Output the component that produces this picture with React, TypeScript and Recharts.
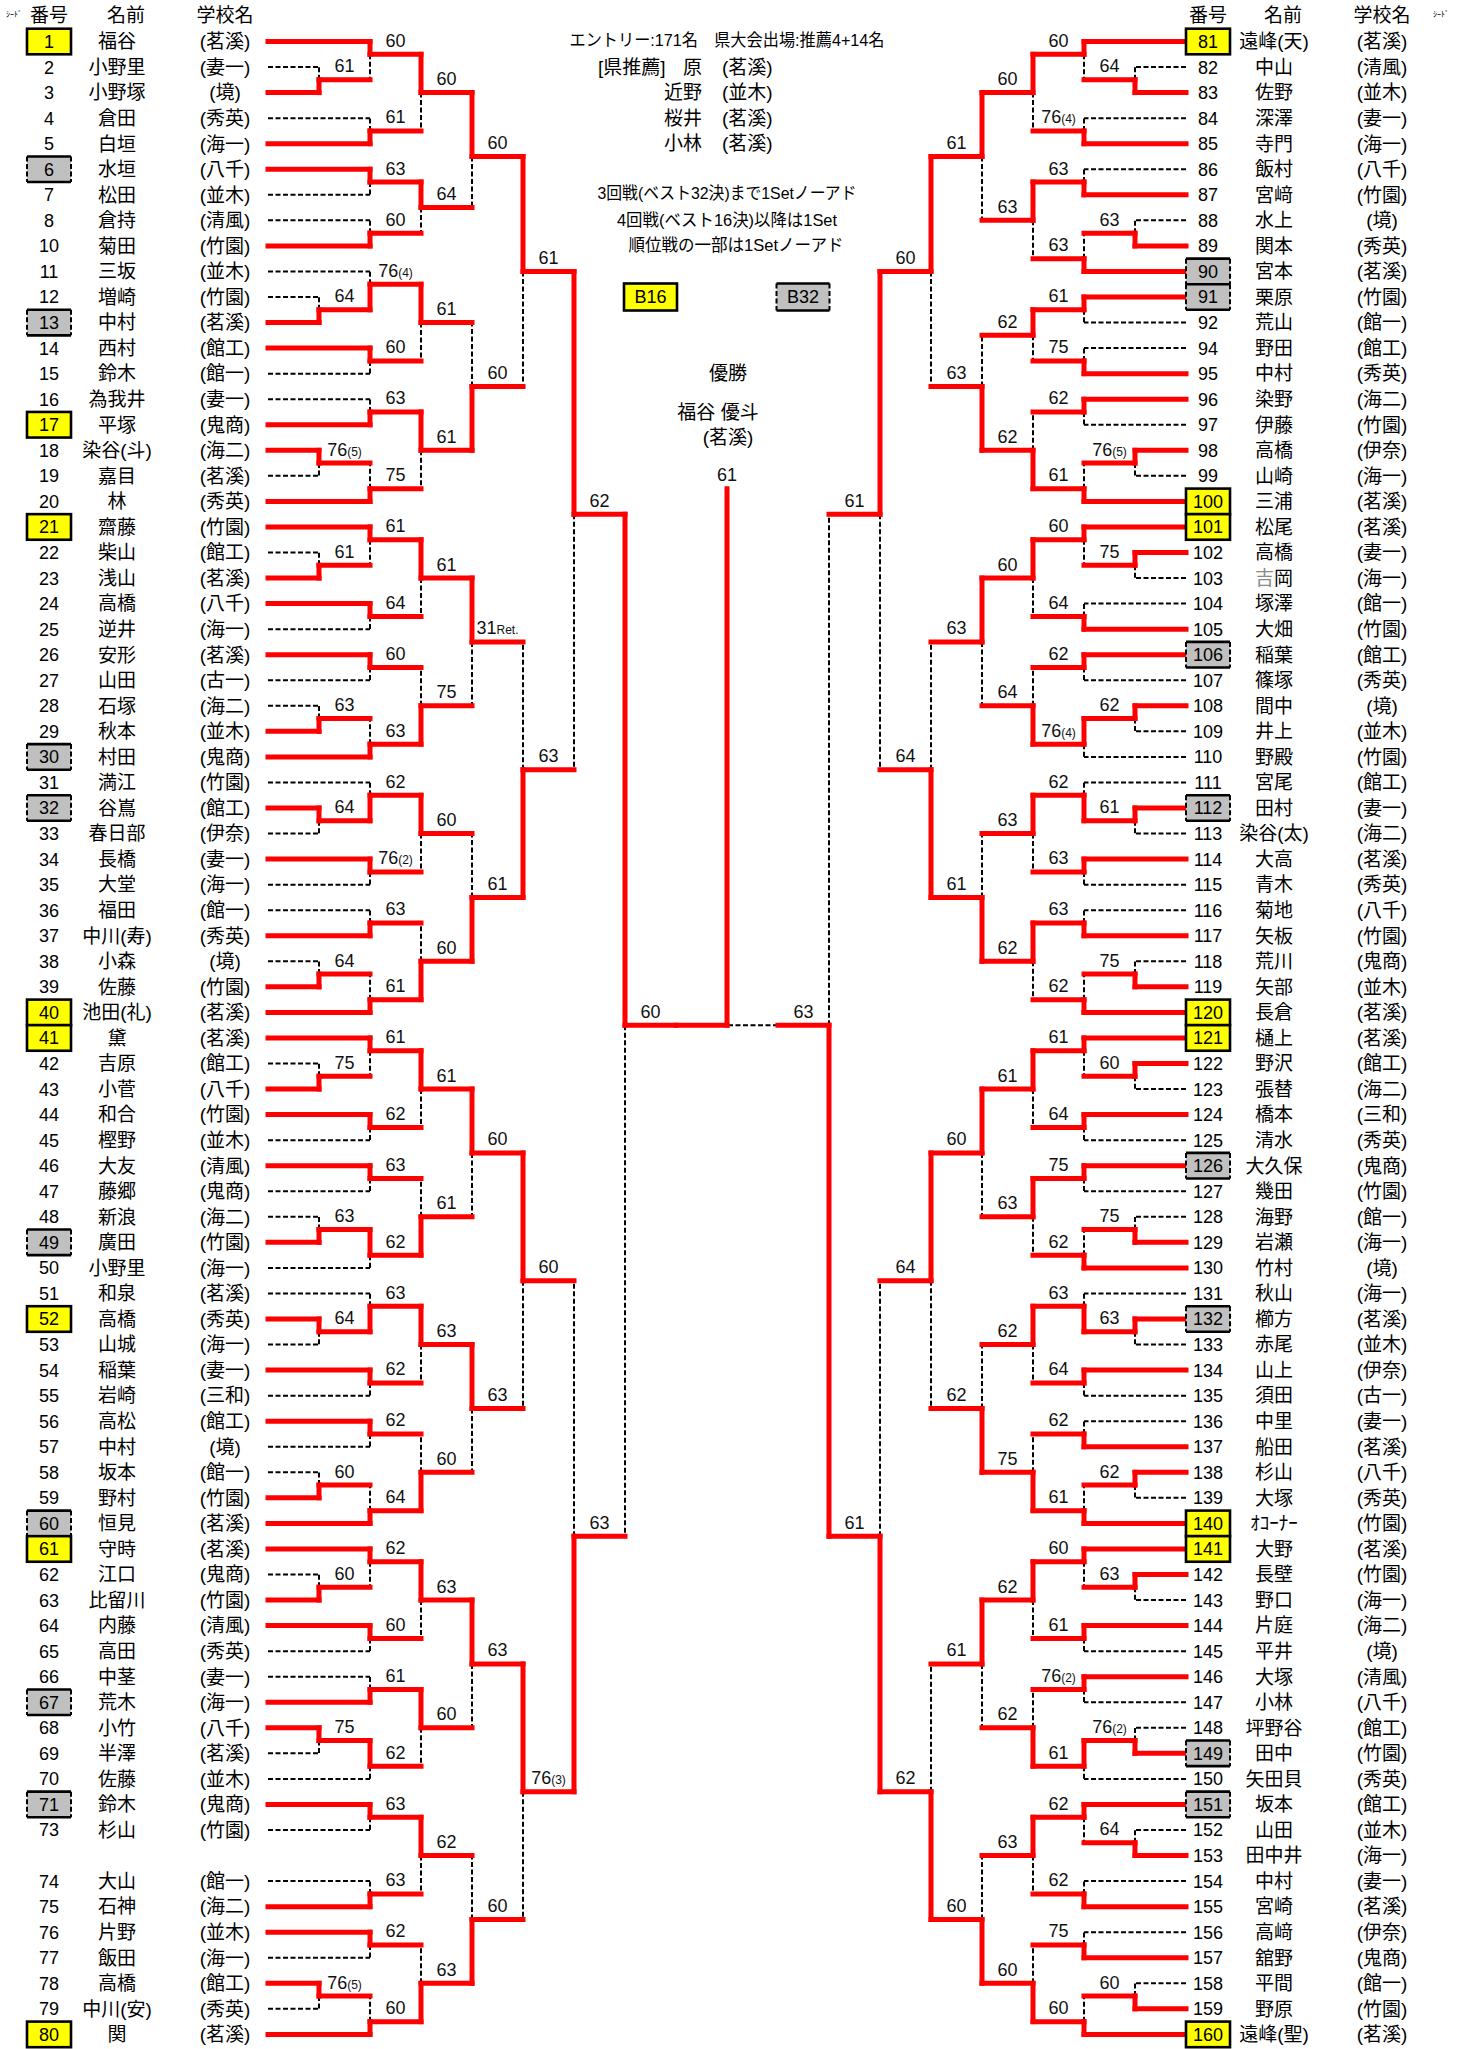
import React from 'react';
import { ComposedChart, XAxis, YAxis, Scatter, ReferenceLine } from 'recharts';

// ---------------- data ----------------
const LEFT_NUMS: (number | null)[] = [
  1, 2, 3, 4, 5, 6, 7, 8, 10, 11, 12, 13, 14, 15, 16, 17, 18, 19, 20, 21, 22, 23, 24, 25, 26, 27, 28, 29, 30,
  31, 32, 33, 34, 35, 36, 37, 38, 39, 40, 41, 42, 43, 44, 45, 46, 47, 48, 49, 50, 51, 52, 53, 54, 55, 56, 57,
  58, 59, 60, 61, 62, 63, 64, 65, 66, 67, 68, 69, 70, 71, 73, null, 74, 75, 76, 77, 78, 79, 80,
];
const LEFT_NAMES: string[] = [
  '福谷', '小野里', '小野塚', '倉田', '白垣', '水垣', '松田', '倉持', '菊田', '三坂', '増崎', '中村', '西村', '鈴木',
  '為我井', '平塚', '染谷(斗)', '嘉目', '林', '齋藤', '柴山', '浅山', '高橋', '逆井', '安形', '山田', '石塚', '秋本',
  '村田', '満江', '谷嶌', '春日部', '長橋', '大堂', '福田', '中川(寿)', '小森', '佐藤', '池田(礼)', '黛', '吉原', '小菅',
  '和合', '樫野', '大友', '藤郷', '新浪', '廣田', '小野里', '和泉', '高橋', '山城', '稲葉', '岩崎', '高松', '中村',
  '坂本', '野村', '恒見', '守時', '江口', '比留川', '内藤', '高田', '中茎', '荒木', '小竹', '半澤', '佐藤', '鈴木',
  '杉山', '', '大山', '石神', '片野', '飯田', '高橋', '中川(安)', '関',
];
const LEFT_SCHOOLS: string[] = [
  '茗溪', '妻一', '境', '秀英', '海一', '八千', '並木', '清風', '竹園', '並木', '竹園', '茗溪', '館工', '館一', '妻一',
  '鬼商', '海二', '茗溪', '秀英', '竹園', '館工', '茗溪', '八千', '海一', '茗溪', '古一', '海二', '並木', '鬼商', '竹園',
  '館工', '伊奈', '妻一', '海一', '館一', '秀英', '境', '竹園', '茗溪', '茗溪', '館工', '八千', '竹園', '並木', '清風',
  '鬼商', '海二', '竹園', '海一', '茗溪', '秀英', '海一', '妻一', '三和', '館工', '境', '館一', '竹園', '茗溪', '茗溪',
  '鬼商', '竹園', '清風', '秀英', '妻一', '海一', '八千', '茗溪', '並木', '鬼商', '竹園', '', '館一', '海二', '並木',
  '海一', '館工', '秀英', '茗溪',
];
const RIGHT_NUMS: number[] = [
  81, 82, 83, 84, 85, 86, 87, 88, 89, 90, 91, 92, 94, 95, 96, 97, 98, 99, 100, 101, 102, 103, 104, 105, 106, 107,
  108, 109, 110, 111, 112, 113, 114, 115, 116, 117, 118, 119, 120, 121, 122, 123, 124, 125, 126, 127, 128, 129,
  130, 131, 132, 133, 134, 135, 136, 137, 138, 139, 140, 141, 142, 143, 144, 145, 146, 147, 148, 149, 150, 151,
  152, 153, 154, 155, 156, 157, 158, 159, 160,
];
const RIGHT_NAMES: string[] = [
  '遠峰(天)', '中山', '佐野', '深澤', '寺門', '飯村', '宮﨑', '水上', '関本', '宮本', '栗原', '荒山', '野田', '中村',
  '染野', '伊藤', '高橋', '山崎', '三浦', '松尾', '高橋', '吉岡', '塚澤', '大畑', '稲葉', '篠塚', '間中', '井上', '野殿',
  '宮尾', '田村', '染谷(太)', '大高', '青木', '菊地', '矢板', '荒川', '矢部', '長倉', '樋上', '野沢', '張替', '橋本',
  '清水', '大久保', '幾田', '海野', '岩瀬', '竹村', '秋山', '櫛方', '赤尾', '山上', '須田', '中里', '船田', '杉山',
  '大塚', 'ｵｺｰﾅｰ', '大野', '長壁', '野口', '片庭', '平井', '大塚', '小林', '坪野谷', '田中', '矢田貝', '坂本', '山田',
  '田中井', '中村', '宮崎', '高﨑', '舘野', '平間', '野原', '遠峰(聖)',
];
const RIGHT_SCHOOLS: string[] = [
  '茗溪', '清風', '並木', '妻一', '海一', '八千', '竹園', '境', '秀英', '茗溪', '竹園', '館一', '館工', '秀英', '海二',
  '竹園', '伊奈', '海一', '茗溪', '茗溪', '妻一', '海一', '館一', '竹園', '館工', '秀英', '境', '並木', '竹園', '館工',
  '妻一', '海二', '茗溪', '秀英', '八千', '竹園', '鬼商', '並木', '茗溪', '茗溪', '館工', '海二', '三和', '秀英', '鬼商',
  '竹園', '館一', '海一', '境', '海一', '茗溪', '並木', '伊奈', '古一', '妻一', '茗溪', '八千', '秀英', '竹園', '茗溪',
  '竹園', '海一', '海二', '境', '清風', '八千', '館工', '竹園', '秀英', '館工', '並木', '海一', '妻一', '茗溪', '伊奈',
  '鬼商', '館一', '竹園', '茗溪',
];
const SEED_B16: number[] = [1, 17, 21, 40, 41, 52, 61, 80, 81, 100, 101, 120, 121, 140, 141, 160];
const SEED_B32: number[] = [6, 13, 30, 32, 49, 60, 67, 71, 90, 91, 106, 112, 126, 132, 149, 151];
// the one name whose first glyph is printed as a grey fallback glyph
const FALLBACK_GLYPH = { num: 103, char: '吉' };

// [round, playerA, playerB, winner, score]
const LEFT_MATCHES: [number, number, number, number, string][] = [
  [1, 2, 3, 3, '61'], [1, 12, 13, 13, '64'], [1, 18, 19, 18, '76(5)'], [1, 22, 23, 23, '61'],
  [1, 28, 29, 29, '63'], [1, 32, 33, 32, '64'], [1, 38, 39, 39, '64'], [1, 42, 43, 43, '75'],
  [1, 48, 49, 49, '63'], [1, 52, 53, 52, '64'], [1, 58, 59, 59, '60'], [1, 62, 63, 63, '60'],
  [1, 68, 69, 68, '75'], [1, 78, 79, 78, '76(5)'],
  [2, 1, 3, 1, '60'], [2, 4, 5, 5, '61'], [2, 6, 7, 6, '63'], [2, 8, 10, 10, '60'],
  [2, 11, 13, 13, '76(4)'], [2, 14, 15, 14, '60'], [2, 16, 17, 17, '63'], [2, 18, 20, 20, '75'],
  [2, 21, 23, 21, '61'], [2, 24, 25, 24, '64'], [2, 26, 27, 26, '60'], [2, 29, 30, 30, '63'],
  [2, 31, 32, 32, '62'], [2, 34, 35, 34, '76(2)'], [2, 36, 37, 37, '63'], [2, 39, 40, 40, '61'],
  [2, 41, 43, 41, '61'], [2, 44, 45, 44, '62'], [2, 46, 47, 46, '63'], [2, 49, 50, 49, '62'],
  [2, 51, 52, 52, '63'], [2, 54, 55, 54, '62'], [2, 56, 57, 56, '62'], [2, 59, 60, 60, '64'],
  [2, 61, 63, 61, '62'], [2, 64, 65, 64, '60'], [2, 66, 67, 67, '61'], [2, 68, 70, 68, '62'],
  [2, 71, 73, 71, '63'], [2, 74, 75, 75, '63'], [2, 76, 77, 76, '62'], [2, 78, 80, 80, '60'],
  [3, 1, 5, 1, '60'], [3, 6, 10, 6, '64'], [3, 13, 14, 13, '61'], [3, 17, 20, 17, '61'],
  [3, 21, 24, 21, '61'], [3, 26, 30, 30, '75'], [3, 32, 34, 32, '60'], [3, 37, 40, 40, '60'],
  [3, 41, 44, 41, '61'], [3, 46, 49, 49, '61'], [3, 52, 54, 52, '63'], [3, 56, 60, 60, '60'],
  [3, 61, 64, 61, '63'], [3, 67, 68, 67, '60'], [3, 71, 75, 71, '62'], [3, 76, 80, 80, '63'],
  [4, 1, 6, 1, '60'], [4, 13, 17, 17, '60'], [4, 21, 30, 21, '31Ret.'], [4, 32, 40, 40, '61'],
  [4, 41, 49, 41, '60'], [4, 52, 60, 52, '63'], [4, 61, 67, 61, '63'], [4, 71, 80, 80, '60'],
  [5, 1, 17, 1, '61'], [5, 21, 40, 40, '63'], [5, 41, 52, 41, '60'], [5, 61, 80, 61, '76(3)'],
  [6, 1, 40, 1, '62'], [6, 41, 61, 61, '63'],
  [7, 1, 61, 1, '60'],
];
const RIGHT_MATCHES: [number, number, number, number, string][] = [
  [1, 82, 83, 83, '64'], [1, 88, 89, 89, '63'], [1, 98, 99, 98, '76(5)'], [1, 102, 103, 102, '75'],
  [1, 108, 109, 108, '62'], [1, 112, 113, 112, '61'], [1, 118, 119, 119, '75'], [1, 122, 123, 122, '60'],
  [1, 128, 129, 129, '75'], [1, 132, 133, 132, '63'], [1, 138, 139, 138, '62'], [1, 142, 143, 142, '63'],
  [1, 148, 149, 149, '76(2)'], [1, 152, 153, 153, '64'], [1, 158, 159, 159, '60'],
  [2, 81, 83, 81, '60'], [2, 84, 85, 85, '76(4)'], [2, 86, 87, 87, '63'], [2, 89, 90, 90, '63'],
  [2, 91, 92, 91, '61'], [2, 94, 95, 95, '75'], [2, 96, 97, 96, '62'], [2, 98, 100, 100, '61'],
  [2, 101, 102, 101, '60'], [2, 104, 105, 105, '64'], [2, 106, 107, 106, '62'], [2, 108, 110, 108, '76(4)'],
  [2, 111, 112, 112, '62'], [2, 114, 115, 114, '63'], [2, 116, 117, 117, '63'], [2, 119, 120, 120, '62'],
  [2, 121, 122, 121, '61'], [2, 124, 125, 124, '64'], [2, 126, 127, 126, '75'], [2, 129, 130, 130, '62'],
  [2, 131, 132, 132, '63'], [2, 134, 135, 134, '64'], [2, 136, 137, 137, '62'], [2, 138, 140, 140, '61'],
  [2, 141, 142, 141, '60'], [2, 144, 145, 144, '61'], [2, 146, 147, 146, '76(2)'], [2, 149, 150, 149, '61'],
  [2, 151, 153, 151, '62'], [2, 154, 155, 155, '62'], [2, 156, 157, 157, '75'], [2, 159, 160, 160, '60'],
  [3, 81, 85, 81, '60'], [3, 87, 90, 87, '63'], [3, 91, 95, 91, '62'], [3, 96, 100, 100, '62'],
  [3, 101, 105, 101, '60'], [3, 106, 108, 108, '64'], [3, 112, 114, 112, '63'], [3, 117, 120, 117, '62'],
  [3, 121, 124, 121, '61'], [3, 126, 130, 126, '63'], [3, 132, 134, 132, '62'], [3, 137, 140, 140, '75'],
  [3, 141, 144, 141, '62'], [3, 146, 149, 149, '62'], [3, 151, 155, 151, '63'], [3, 157, 160, 160, '60'],
  [4, 81, 87, 81, '61'], [4, 91, 100, 100, '63'], [4, 101, 108, 101, '63'], [4, 112, 117, 117, '61'],
  [4, 121, 126, 121, '60'], [4, 132, 140, 140, '62'], [4, 141, 149, 141, '61'], [4, 151, 160, 160, '60'],
  [5, 81, 100, 81, '60'], [5, 101, 117, 117, '64'], [5, 121, 140, 121, '64'], [5, 141, 160, 160, '62'],
  [6, 81, 117, 81, '61'], [6, 121, 160, 160, '61'],
  [7, 81, 160, 160, '63'],
];
// [left finalist, right finalist, winner, score]
const FINAL_MATCH: [number, number, number, string] = [1, 160, 1, '61'];
const CHAMPION = { title: '優勝', name: '福谷 優斗', school: '茗溪' };

const ENTRY_NOTE = 'エントリー:171名　県大会出場:推薦4+14名';
const REC_LABEL = '[県推薦]';
const REC_NAMES: string[] = ['原', '近野', '桜井', '小林'];
const REC_SCHOOLS: string[] = ['茗溪', '並木', '茗溪', '茗溪'];
const RULE_NOTES: string[] = ['3回戦(ベスト32決)まで1Setノーアド', '4回戦(ベスト16決)以降は1Set', '順位戦の一部は1Setノーアド'];
const SEED_LEGEND: string[] = ['B16', 'B32'];
const HEADERS: string[] = ['番号', '名前', '学校名'];
const SEED_HEADER = 'ｼｰﾄﾞ';

// ---------------- layout ----------------
const W = 1472;
const H = 2049;
const X0 = 268; // pixel of bracket column 0
const DX = 51; // pixel width of one round column
const Y0 = 41.5; // pixel of row 0
const DY = 25.55; // pixel height of one row
const CENTER_COL = 9;
const CHAMP_ROW = 17.5;
const kx = (px: number) => (px - X0) / DX;
const ry = (py: number) => (py - Y0) / DY;
const X_DOMAIN: [number, number] = [kx(0), kx(W)];
const Y_DOMAIN: [number, number] = [ry(0), ry(H)];
const FONT = "'Liberation Sans', Arial, 'Noto Sans CJK JP', sans-serif";
const RED = '#ff0000';

type Seg = { x1: number; y1: number; x2: number; y2: number; red: boolean };
type Lbl = { x: number; y: number; label: string };

const snapRow = (m: number) => {
  const q = Math.round(m * 4);
  return q % 2 !== 0 ? Math.floor(m) + 0.5 : q / 4;
};

function buildSide(nums: (number | null)[], matches: [number, number, number, number, string][], side: 'L' | 'R') {
  const col = (r: number) => (side === 'L' ? r : 2 * CENTER_COL - r);
  const dir = side === 'L' ? 1 : -1;
  const pos = new Map<number, { y: number; c: number; leaf: boolean }>();
  nums.forEach((n, i) => {
    if (n != null) pos.set(n, { y: i, c: col(0), leaf: true });
  });
  const segs: Seg[] = [];
  const labels: Lbl[] = [];
  matches.forEach(([r, a, b, w, s]) => {
    const xm = col(r);
    const pa = pos.get(a)!;
    const pb = pos.get(b)!;
    const win = w === a ? pa : pb;
    const lose = w === a ? pb : pa;
    const yo = snapRow((pa.y + pb.y) / 2);
    segs.push({ x1: win.c, y1: win.y, x2: xm, y2: win.y, red: true });
    segs.push({ x1: lose.c, y1: lose.y, x2: xm, y2: lose.y, red: !lose.leaf });
    segs.push({ x1: xm, y1: win.y, x2: xm, y2: yo, red: true });
    segs.push({ x1: xm, y1: yo, x2: xm, y2: lose.y, red: false });
    labels.push({ x: xm + dir * 0.5, y: yo, label: s });
    pos.set(w, { y: yo, c: xm, leaf: false });
  });
  return { segs, labels, pos };
}

const LEFT = buildSide(LEFT_NUMS, LEFT_MATCHES, 'L');
const RIGHT = buildSide(RIGHT_NUMS, RIGHT_MATCHES, 'R');

const finalSegs: Seg[] = (() => {
  const [fa, fb, fw] = FINAL_MATCH;
  const pl = LEFT.pos.get(fa)!;
  const pr = RIGHT.pos.get(fb)!;
  const leftWon = fw === fa;
  return [
    { x1: pl.c, y1: pl.y, x2: CENTER_COL - 1, y2: pl.y, red: true },
    { x1: CENTER_COL - 1, y1: pl.y, x2: CENTER_COL, y2: pl.y, red: leftWon },
    { x1: pr.c, y1: pr.y, x2: CENTER_COL + 1, y2: pr.y, red: true },
    { x1: CENTER_COL + 1, y1: pr.y, x2: CENTER_COL, y2: pr.y, red: !leftWon },
    { x1: CENTER_COL, y1: pl.y, x2: CENTER_COL, y2: CHAMP_ROW, red: true },
  ];
})();

const ALL_SEGS: Seg[] = [...LEFT.segs, ...RIGHT.segs, ...finalSegs];
const DASHED = ALL_SEGS.filter((s) => !s.red);
const REDS = ALL_SEGS.filter((s) => s.red);
const SCORE_LABELS: Lbl[] = [...LEFT.labels, ...RIGHT.labels, { x: CENTER_COL, y: CHAMP_ROW, label: FINAL_MATCH[3] }];

const seedOf = (n: number) => (SEED_B16.includes(n) ? 'b16' : SEED_B32.includes(n) ? 'b32' : null);

function listData(nums: (number | null)[], names: string[], schools: string[], side: 'L' | 'R') {
  const numX = kx(side === 'L' ? 49 : 1208);
  const nameX = kx(side === 'L' ? 117 : 1274);
  const schX = kx(side === 'L' ? 225 : 1382);
  const numbers: any[] = [];
  const nm: any[] = [];
  const sc: any[] = [];
  nums.forEach((n, i) => {
    if (n == null) return;
    numbers.push({ x: numX, y: i, label: String(n), seed: seedOf(n), bw: 44, bh: 25.6 });
    nm.push({ x: nameX, y: i, label: names[i], num: n });
    sc.push({ x: schX, y: i, label: `(${schools[i]})` });
  });
  return { numbers, nm, sc };
}
const LL = listData(LEFT_NUMS, LEFT_NAMES, LEFT_SCHOOLS, 'L');
const RL = listData(RIGHT_NUMS, RIGHT_NAMES, RIGHT_SCHOOLS, 'R');

// ---------------- shapes ----------------
const SeedBox = ({ cx, cy, w, h, seed }: any) => {
  const x = cx - w / 2;
  const y = cy - h / 2;
  if (seed === 'b16') {
    return <rect x={x} y={y} width={w} height={h} fill="#ffff00" stroke="#000" strokeWidth={2.6} />;
  }
  if (seed === 'b32') {
    return (
      <g>
        <rect x={x} y={y} width={w} height={h} fill="#c0c0c0" />
        <line x1={x} y1={y} x2={x + w} y2={y} stroke="#000" strokeWidth={2.6} />
        <line x1={x} y1={y + h} x2={x + w} y2={y + h} stroke="#000" strokeWidth={2.6} />
        <line x1={x} y1={y} x2={x} y2={y + h} stroke="#000" strokeWidth={2} strokeDasharray="5 2.5" />
        <line x1={x + w} y1={y} x2={x + w} y2={y + h} stroke="#000" strokeWidth={2} strokeDasharray="5 2.5" />
      </g>
    );
  }
  return null;
};

const NumberShape = (p: any) => {
  const { cx, cy, payload } = p;
  return (
    <g>
      <SeedBox cx={cx} cy={cy} w={payload.bw} h={payload.bh} seed={payload.seed} />
      <text x={cx} y={cy} dy="0.36em" textAnchor="middle" fontFamily={FONT} fontSize={18} fill="#000">
        {payload.label}
      </text>
    </g>
  );
};

const NameShape = (p: any) => {
  const { cx, cy, payload } = p;
  const label: string = payload.label;
  let content: any = label;
  if (payload.num === FALLBACK_GLYPH.num && label.startsWith(FALLBACK_GLYPH.char)) {
    content = [
      <tspan key="a" fill="#8a8a8a">{FALLBACK_GLYPH.char}</tspan>,
      <tspan key="b">{label.slice(FALLBACK_GLYPH.char.length)}</tspan>,
    ];
  }
  return (
    <text x={cx} y={cy} dy="0.36em" textAnchor="middle" fontFamily={FONT} fontSize={19} fill="#000">
      {content}
    </text>
  );
};

const textShape = (size: number, anchor: 'start' | 'middle' | 'end' = 'middle', fill = '#000') => (p: any) => {
  const { cx, cy, payload } = p;
  const extra: any = payload.len ? { textLength: payload.len, lengthAdjust: 'spacingAndGlyphs' } : {};
  return (
    <text x={cx} y={cy} dy="0.36em" textAnchor={anchor} fontFamily={FONT} fontSize={size} fill={fill} {...extra}>
      {payload.label}
    </text>
  );
};

const ScoreShape = (p: any) => {
  const { cx, cy, payload } = p;
  const m = /^(\d+)(.*)$/.exec(payload.label);
  const main = m ? m[1] : payload.label;
  const sub = m ? m[2] : '';
  return (
    <text x={cx} y={cy - 7.5} textAnchor="middle" fontFamily={FONT} fontSize={18} fill="#111">
      {main}
      {sub ? <tspan fontSize={12}>{sub}</tspan> : null}
    </text>
  );
};

const LegendShape = (p: any) => {
  const { cx, cy, payload } = p;
  return (
    <g>
      <SeedBox cx={cx} cy={cy} w={53} h={27} seed={payload.seed} />
      <text x={cx} y={cy} dy="0.36em" textAnchor="middle" fontFamily={FONT} fontSize={18} fill="#000">
        {payload.label}
      </text>
    </g>
  );
};

// ---------------- text tables built from the data ----------------
const HEADER_DATA = [
  { x: kx(49), y: ry(15), label: HEADERS[0] },
  { x: kx(126), y: ry(15), label: HEADERS[1] },
  { x: kx(225), y: ry(15), label: HEADERS[2] },
  { x: kx(1208), y: ry(15), label: HEADERS[0] },
  { x: kx(1283), y: ry(15), label: HEADERS[1] },
  { x: kx(1382), y: ry(15), label: HEADERS[2] },
];
const SEED_HEADER_DATA = [
  { x: kx(14), y: ry(14), label: SEED_HEADER },
  { x: kx(1441), y: ry(14), label: SEED_HEADER },
];
const NOTE_CENTER = [
  { x: kx(727), y: ry(40), label: ENTRY_NOTE, len: 315 },
  { x: kx(727), y: ry(193), label: RULE_NOTES[0], len: 259 },
  { x: kx(727), y: ry(220), label: RULE_NOTES[1], len: 220 },
  { x: kx(736), y: ry(245), label: RULE_NOTES[2], len: 215 },
];
const REC_LABEL_DATA = [{ x: kx(598), y: ry(67), label: REC_LABEL }];
const REC_NAME_DATA = REC_NAMES.map((n, i) => ({ x: kx(702), y: ry(67 + i * 25.4), label: n }));
const REC_SCHOOL_DATA = REC_SCHOOLS.map((s, i) => ({ x: kx(722), y: ry(67 + i * 25.4), label: `(${s})` }));
const LEGEND_DATA = [
  { x: kx(650.5), y: ry(297), label: SEED_LEGEND[0], seed: 'b16' },
  { x: kx(803), y: ry(297), label: SEED_LEGEND[1], seed: 'b32' },
];
const CHAMP_DATA = [
  { x: kx(728), y: ry(373), label: CHAMPION.title },
  { x: kx(718), y: ry(412), label: CHAMPION.name },
  { x: kx(728), y: ry(437), label: `(${CHAMPION.school})` },
];

export default function App() {
  return (
    <div style={{ position: 'absolute', left: 0, top: 0, width: W, height: H, background: '#fff' }}>
      <ComposedChart width={W} height={H} margin={{ top: 0, right: 0, bottom: 0, left: 0 }}>
        <XAxis type="number" dataKey="x" domain={X_DOMAIN} hide allowDataOverflow />
        <YAxis type="number" dataKey="y" domain={Y_DOMAIN} reversed hide allowDataOverflow />
        {DASHED.map((s, i) => (
          <ReferenceLine
            key={`d${i}`}
            segment={[{ x: s.x1, y: s.y1 }, { x: s.x2, y: s.y2 }]}
            stroke="#000"
            strokeWidth={2}
            strokeDasharray="5 2.5"
            ifOverflow="visible"
          />
        ))}
        {REDS.map((s, i) => (
          <ReferenceLine
            key={`r${i}`}
            segment={[{ x: s.x1, y: s.y1 }, { x: s.x2, y: s.y2 }]}
            stroke={RED}
            strokeWidth={5}
            strokeLinecap="square"
            ifOverflow="visible"
          />
        ))}
        <Scatter data={[...LL.numbers, ...RL.numbers]} shape={NumberShape} isAnimationActive={false} />
        <Scatter data={[...LL.nm, ...RL.nm]} shape={NameShape} isAnimationActive={false} />
        <Scatter data={[...LL.sc, ...RL.sc]} shape={textShape(19)} isAnimationActive={false} />
        <Scatter data={SCORE_LABELS} shape={ScoreShape} isAnimationActive={false} />
        <Scatter data={HEADER_DATA} shape={textShape(19)} isAnimationActive={false} />
        <Scatter data={SEED_HEADER_DATA} shape={textShape(8)} isAnimationActive={false} />
        <Scatter data={NOTE_CENTER} shape={textShape(17)} isAnimationActive={false} />
        <Scatter data={REC_LABEL_DATA} shape={textShape(19, 'start')} isAnimationActive={false} />
        <Scatter data={REC_NAME_DATA} shape={textShape(19, 'end')} isAnimationActive={false} />
        <Scatter data={REC_SCHOOL_DATA} shape={textShape(19, 'start')} isAnimationActive={false} />
        <Scatter data={LEGEND_DATA} shape={LegendShape} isAnimationActive={false} />
        <Scatter data={CHAMP_DATA} shape={textShape(19)} isAnimationActive={false} />
      </ComposedChart>
    </div>
  );
}
